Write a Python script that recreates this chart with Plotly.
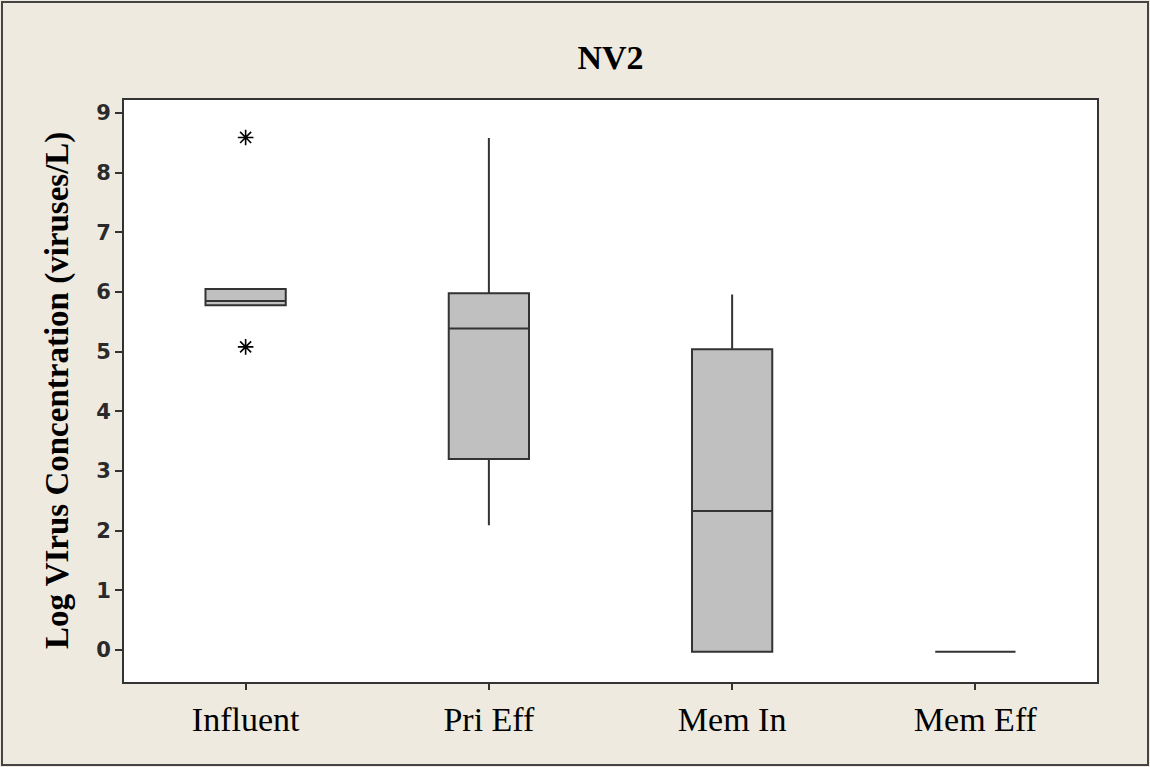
import plotly.graph_objects as go

categories = ["Influent", "Pri Eff", "Mem In", "Mem Eff"]
q1 = [5.78, 3.20, -0.03, -0.03]
median = [5.85, 5.39, 2.33, -0.03]
q3 = [6.05, 5.98, 5.04, -0.03]
lowerfence = [5.78, 2.09, -0.03, -0.03]
upperfence = [6.05, 8.58, 5.96, -0.03]

outlier_cat = ["Influent", "Influent"]
outlier_val = [8.59, 5.08]

y_ticks = [0, 1, 2, 3, 4, 5, 6, 7, 8, 9]

W, H = 1150, 767
ML, MR, MT, MB = 124, 53, 100, 85
PW, PH = W - ML - MR, H - MT - MB

bg = "#EEEAE0"
ink = "#333333"

fig = go.Figure()
fig.add_trace(go.Box(
    x=categories, q1=q1, median=median, q3=q3,
    lowerfence=lowerfence, upperfence=upperfence,
    width=0.33, whiskerwidth=0,
    fillcolor="#C0C0C0",
    line=dict(color=ink, width=2),
    boxpoints=False, showlegend=False, hoverinfo="skip",
))
fig.add_trace(go.Scatter(
    x=outlier_cat, y=outlier_val, mode="markers",
    marker=dict(symbol="asterisk-open", size=13, color="black",
                line=dict(color="black", width=1.6)),
    showlegend=False, hoverinfo="skip",
))

fig.update_layout(
    width=W, height=H,
    margin=dict(l=ML, r=MR, t=MT, b=MB),
    paper_bgcolor=bg, plot_bgcolor="white",
    title=dict(text="<b>NV2</b>", x=0.5, xref="paper", xanchor="center",
               y=1 - 57 / H, yanchor="middle", yref="container",
               font=dict(family="Liberation Serif", size=34, color="black")),
    xaxis=dict(
        categoryorder="array", categoryarray=categories,
        range=[-0.5, 3.5],
        showline=True, linecolor=ink, linewidth=2, mirror=True,
        ticks="outside", ticklen=6, tickwidth=2, tickcolor=ink,
        showgrid=False, zeroline=False,
        tickfont=dict(family="Liberation Serif", size=34, color="black"),
    ),
    yaxis=dict(
        range=[-0.536, 9.218],
        tickvals=y_ticks, ticktext=[str(v) for v in y_ticks],
        showline=True, linecolor=ink, linewidth=2, mirror=True,
        ticks="outside", ticklen=7, tickwidth=2, tickcolor=ink,
        showgrid=False, zeroline=False,
        tickfont=dict(family="DejaVu Sans", size=21, color="#2a2a2a", weight="bold"),
    ),
    annotations=[dict(
        text="<b>Log VIrus Concentration (viruses/L)</b>",
        textangle=-90, xref="paper", yref="paper",
        x=(57 - ML) / PW, y=0.5, xanchor="center", yanchor="middle",
        showarrow=False,
        font=dict(family="Liberation Serif", size=33, color="black"),
    )],
    shapes=[dict(
        type="rect", xref="paper", yref="paper",
        x0=(-ML + 2) / PW, x1=1 + (MR - 2) / PW,
        y0=(-MB + 2) / PH, y1=1 + (MT - 2) / PH,
        line=dict(color="#444444", width=2), layer="below",
    )],
)

fig.write_html("out.html", config={"displayModeBar": False},
               post_script="document.body.style.margin='0';document.body.style.overflow='hidden';")
